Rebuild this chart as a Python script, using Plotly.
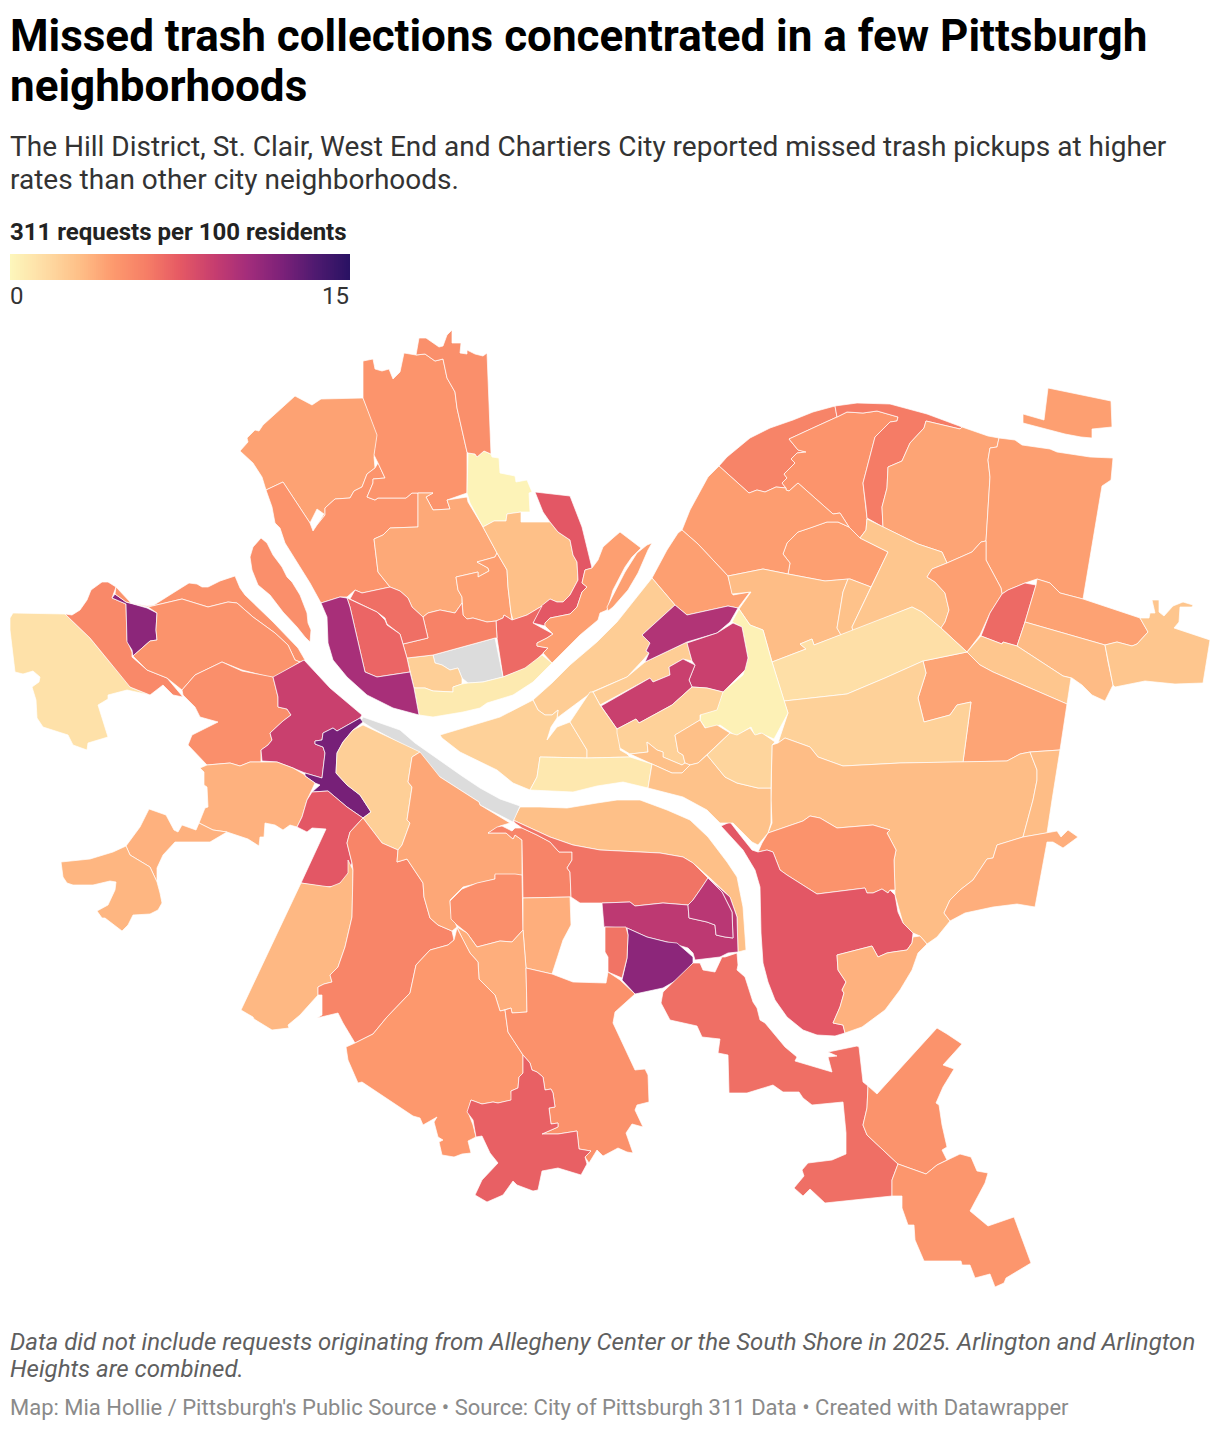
import numpy as np
import plotly.graph_objects as go
from plotly.colors import sample_colorscale

TITLE_LINES = ["Missed trash collections concentrated in a few Pittsburgh", "neighborhoods"]
SUBTITLE_LINES = ["The Hill District, St. Clair, West End and Chartiers City reported missed trash pickups at higher",
                  "rates than other city neighborhoods."]
LEGEND_TITLE = "311 requests per 100 residents"
NOTE_LINES = ["Data did not include requests originating from Allegheny Center or the South Shore in 2025. Arlington and Arlington",
              "Heights are combined."]
SOURCE_LINE = "Map: Mia Hollie / Pittsburgh's Public Source • Source: City of Pittsburgh 311 Data • Created with Datawrapper"
SCALE_MIN, SCALE_MAX = 0, 15
NO_DATA = "#dcdcdc"
SCALE = [[0.0,"#fdf6bb"],[0.1,"#fedca4"],[0.2,"#fec088"],[0.3,"#fd9a6e"],[0.4,"#f67e66"],[0.5,"#e55964"],
         [0.6,"#c73e6f"],[0.7,"#a32d7b"],[0.8,"#7d2179"],[0.9,"#4f1a70"],[1.0,"#2a1263"]]

A=[(240,451),(248,442),(247,438),(255,430),(259,431),(263,425),(295,396),(312,405),(321,399),(363,398),(368,410),(378,435),(374,457),(375,468),(367,474),(362,487),(354,491),(350,498),(335,499),(325,508),(325,515),(317,525),(324,514),(317,509),(310,523),(283,482),(266,490),(262,477),(253,463)]
B=[(266,490),(283,482),(310,523),(313,531),(317,525),(325,515),(325,508),(335,499),(350,498),(354,491),(362,487),(367,474),(375,468),(378,463),(385,478),(373,479),(373,483),(367,497),(375,500),(378,498),(406,498),(412,493),(418,493),(418,527),(390,528),(383,535),(374,539),(378,572),(390,587),(362,593),(355,590),(347,597),(340,597),(321,603),(310,583),(285,543),(280,528),(275,523),(272,507),(268,497)]
C=[(363,361),(373,359),(375,369),(382,371),(389,369),(393,379),(400,372),(404,353),(416,355),(425,354),(435,361),(443,359),(447,378),(455,392),(457,408),(467,452),(467,493),(447,500),(450,509),(433,510),(426,497),(433,493),(412,493),(406,498),(378,498),(375,500),(367,497),(373,483),(373,479),(385,478),(378,463),(374,455),(377,435),(363,398)]
E=[(374,539),(383,535),(390,528),(418,527),(418,493),(433,493),(426,497),(433,510),(450,509),(447,500),(467,497),(468,502),(483,527),(497,553),(495,557),(477,562),(488,568),(489,571),(478,577),(478,572),(456,577),(458,590),(462,597),(462,603),(455,613),(440,610),(428,613),(423,617),(412,607),(408,598),(400,591),(390,587),(378,572)]
F=[(456,577),(478,572),(478,577),(489,571),(488,568),(477,562),(495,557),(497,553),(507,570),(508,587),(511,613),(512,620),(504,615),(503,618),(496,621),(487,622),(473,618),(467,619),(463,615),(462,597),(458,590)]
G=[(468,453),(475,454),(477,457),(484,451),(491,454),(492,457),(499,458),(500,473),(515,476),(516,482),(527,480),(532,492),(529,493),(530,512),(521,512),(507,514),(506,521),(494,521),(483,527),(470,503),(467,493)]
H=[(416,355),(419,338),(426,338),(439,347),(443,346),(447,335),(452,330),(452,343),(461,343),(460,353),(467,354),(467,350),(475,354),(483,356),(487,353),(491,454),(484,451),(477,457),(475,454),(468,453),(467,452),(457,408),(455,392),(447,378),(443,359),(435,361),(425,354)]
I=[(483,527),(494,521),(506,521),(507,514),(521,512),(521,522),(550,522),(558,532),(570,540),(573,555),(577,562),(578,580),(570,595),(563,602),(557,602),(550,599),(542,606),(527,615),(513,620),(511,613),(508,587),(507,570),(497,553)]
J=[(535,492),(570,496),(582,527),(592,568),(585,570),(582,583),(587,587),(582,592),(577,607),(570,614),(550,618),(545,623),(545,626),(533,623),(540,607),(550,599),(557,602),(563,602),(570,595),(578,580),(577,562),(573,555),(570,540),(558,532),(550,522),(543,512)]
K=[(496,621),(503,618),(504,615),(512,620),(527,615),(542,606),(533,623),(553,634),(547,638),(537,643),(537,646),(548,648),(530,667),(503,677),(497,638)]
L=[(620,532),(641,548),(632,557),(625,567),(613,590),(607,610),(600,613),(598,620),(580,635),(552,663),(543,653),(548,648),(537,646),(537,643),(547,638),(553,634),(545,626),(545,623),(550,618),(570,614),(577,607),(582,592),(587,587),(582,583),(585,570),(592,568),(598,560),(603,547),(613,538)]
M=[(652,543),(648,550),(638,573),(628,590),(613,607),(608,611),(607,607),(617,588),(625,572),(637,553),(647,545)]
N1=[(719,466),(727,457),(750,438),(770,428),(793,420),(813,412),(835,406),(837,417),(815,427),(789,439),(798,450),(806,452),(797,453),(791,459),(795,463),(784,474),(787,478),(782,483),(786,488),(776,487),(765,492),(757,490),(749,493)]
N2=[(837,417),(847,412),(863,413),(877,411),(898,417),(897,421),(890,422),(875,437),(863,483),(866,507),(867,518),(866,530),(860,538),(849,527),(840,513),(833,514),(798,483),(789,491),(786,490),(786,488),(782,483),(787,478),(784,474),(795,463),(791,459),(797,453),(806,452),(798,450),(789,439),(815,427)]
N3=[(835,406),(857,403),(890,404),(927,414),(962,427),(960,429),(926,421),(924,428),(910,443),(902,461),(888,467),(887,488),(882,507),(883,527),(867,518),(866,507),(863,483),(875,437),(890,422),(897,421),(898,417),(877,411),(863,413),(847,412),(837,417)]
N4=[(926,421),(960,429),(962,427),(988,436),(999,438),(997,447),(990,448),(988,460),(990,477),(986,541),(981,542),(972,552),(947,563),(942,552),(918,544),(883,527),(882,507),(887,488),(888,467),(902,461),(910,443),(924,428)]
N5=[(999,438),(1015,440),(1022,445),(1050,449),(1057,452),(1090,457),(1113,458),(1111,480),(1102,486),(1083,599),(1060,593),(1050,583),(1037,579),(1025,583),(1008,590),(1002,594),(1001,588),(986,560),(986,541),(990,477),(988,460),(990,448),(997,447)]
N6=[(1048,388),(1111,401),(1112,427),(1092,429),(1092,438),(1081,437),(1065,434),(1023,423),(1023,414),(1044,420)]
N7=[(788,574),(790,563),(783,554),(787,543),(798,532),(810,528),(827,522),(838,522),(849,527),(860,538),(888,552),(871,587),(850,579),(825,581)]
O=[(719,466),(749,493),(757,490),(765,492),(776,487),(786,488),(786,490),(789,491),(798,483),(833,514),(840,513),(849,527),(838,522),(827,522),(810,528),(798,532),(787,543),(783,554),(790,563),(788,574),(763,569),(728,576),(698,544),(682,530),(690,510),(703,487),(708,477)]
P=[(682,530),(698,544),(728,576),(733,595),(750,592),(738,608),(728,606),(687,615),(675,605),(652,578),(667,550),(678,533)]
Q=[(728,576),(763,569),(788,574),(825,581),(848,579),(843,592),(837,628),(841,635),(814,645),(812,639),(800,644),(806,649),(772,662),(763,630),(750,625),(739,609),(751,592),(732,594)]
R=[(848,579),(850,579),(871,587),(852,627),(853,631),(841,635),(837,628),(843,592)]
S=[(867,519),(883,527),(918,544),(942,552),(947,563),(932,569),(927,577),(935,582),(945,593),(949,610),(945,622),(941,628),(922,612),(912,607),(895,614),(853,631),(852,627),(871,587),(888,552),(860,538),(866,530)]
T=[(947,563),(972,552),(981,542),(986,541),(986,560),(1001,588),(1002,594),(990,613),(980,635),(967,652),(941,628),(945,622),(949,610),(945,593),(935,582),(927,577),(932,569)]
U=[(1008,590),(1025,583),(1036,585),(1025,622),(1017,646),(1003,642),(1002,644),(981,636),(990,613),(1002,594)]
V=[(1037,579),(1050,583),(1060,593),(1083,599),(1140,618),(1148,632),(1137,644),(1132,646),(1117,642),(1105,645),(1025,622),(1036,585)]
W=[(1025,622),(1105,645),(1108,662),(1113,685),(1105,701),(1092,695),(1082,685),(1072,678),(1063,676),(1017,646)]
X=[(1140,618),(1149,618),(1150,613),(1155,613),(1152,600),(1159,600),(1159,612),(1164,616),(1173,606),(1183,602),(1193,605),(1192,607),(1180,607),(1179,622),(1174,628),(1210,640),(1203,683),(1175,684),(1145,681),(1115,687),(1113,685),(1108,662),(1105,645),(1117,642),(1132,646),(1137,644),(1148,632)]
Y=[(981,636),(1002,644),(1003,642),(1017,646),(1063,676),(1071,678),(1067,704),(993,672),(980,665),(967,652)]
Z=[(967,652),(980,665),(993,672),(1067,704),(1060,750),(1030,752),(1020,754),(1007,761),(963,762),(971,702),(957,705),(950,715),(924,722),(918,698),(926,673),(923,661)]
AA=[(772,662),(806,649),(800,644),(812,639),(814,645),(895,614),(912,607),(922,612),(941,628),(967,652),(923,661),(903,670),(885,678),(847,694),(784,701)]
AB=[(784,701),(847,694),(885,678),(903,670),(923,661),(926,673),(918,698),(924,722),(950,715),(957,705),(971,702),(963,762),(900,763),(843,766),(818,757),(810,747),(785,738),(778,743),(788,713)]
AC=[(739,609),(750,625),(763,630),(772,662),(788,713),(774,739),(760,733),(755,736),(751,727),(736,736),(720,725),(707,730),(700,720),(701,713),(715,710),(718,698),(725,690),(743,675),(748,658),(742,627),(732,622)]
AD=[(772,745),(778,743),(785,738),(810,747),(818,757),(843,766),(900,763),(963,762),(1007,761),(1020,754),(1030,752),(1037,770),(1037,780),(1033,800),(1023,837),(997,845),(993,858),(987,859),(973,880),(960,890),(950,900),(944,913),(950,921),(937,937),(927,944),(920,936),(913,933),(903,923),(895,895),(894,860),(896,850),(887,833),(890,830),(873,825),(837,828),(820,818),(810,816),(803,821),(768,833),(772,823),(771,800)]
AE=[(1030,752),(1060,750),(1052,800),(1047,833),(1023,837),(1033,800),(1037,780),(1037,770)]
AG=[(950,921),(944,913),(950,900),(960,890),(973,880),(987,859),(993,858),(997,845),(1023,837),(1047,833),(1057,831),(1061,837),(1068,830),(1078,837),(1063,848),(1053,842),(1047,842),(1035,907),(1017,904),(993,907),(965,913)]
AH=[(758,852),(762,843),(768,833),(803,821),(810,816),(820,818),(837,828),(873,825),(890,830),(887,833),(896,850),(894,860),(895,890),(890,890),(888,893),(882,889),(873,893),(867,893),(865,888),(817,894),(787,875),(780,870),(773,852),(767,850)]
AI=[(721,826),(730,822),(740,835),(752,850),(758,852),(767,850),(773,852),(780,870),(787,875),(817,894),(865,888),(867,893),(873,893),(882,889),(888,893),(890,890),(895,895),(898,912),(903,923),(913,933),(912,943),(907,950),(893,952),(887,953),(878,957),(872,946),(837,955),(838,970),(846,982),(842,990),(844,993),(840,1007),(833,1023),(843,1025),(845,1033),(835,1036),(817,1035),(803,1030),(787,1017),(775,1000),(768,982),(763,963),(761,933),(760,887),(755,870),(743,850)]
AJ=[(837,955),(872,946),(878,957),(887,953),(893,952),(907,950),(912,943),(913,937),(920,936),(927,944),(918,953),(912,970),(900,990),(885,1010),(862,1027),(845,1033),(843,1025),(833,1023),(840,1007),(844,993),(842,990),(846,982),(838,970)]
AK=[(513,820),(520,807),(540,807),(567,808),(597,803),(617,800),(640,800),(667,810),(690,820),(708,837),(727,862),(737,877),(743,907),(746,950),(738,952),(737,917),(730,897),(710,878),(693,863),(683,857),(660,853),(600,850),(573,845),(550,837)]
AL=[(363,717),(400,730),(415,743),(440,761),(462,776),(480,788),(500,799),(520,806),(513,822),(480,805),(479,802),(440,777),(415,753),(400,743),(372,728),(361,721)]
AM=[(433,655),(495,638),(503,677),(483,682),(468,683),(462,678),(458,668),(450,670),(442,665),(435,663)]
AN=[(407,658),(433,655),(435,663),(442,665),(450,670),(458,668),(462,678),(462,684),(453,687),(453,692),(433,691),(425,688),(414,688)]
AO=[(414,688),(425,688),(433,691),(453,692),(453,687),(462,684),(468,683),(483,682),(503,677),(525,668),(542,655),(552,663),(533,682),(513,695),(487,703),(480,708),(463,712),(433,717),(419,715)]
AP=[(403,644),(428,638),(423,617),(428,613),(440,610),(455,613),(462,603),(463,615),(467,619),(473,618),(487,622),(496,621),(497,638),(495,638),(433,655),(407,658)]
AQ=[(362,593),(390,587),(400,591),(408,598),(412,607),(423,617),(428,638),(403,644),(400,634),(387,624),(385,618),(377,612),(350,599),(355,590)]
AR=[(347,598),(377,612),(385,620),(387,625),(400,634),(403,644),(407,658),(410,672),(377,677),(365,672),(350,607)]
AS=[(321,603),(340,597),(347,598),(350,607),(365,672),(377,677),(410,672),(414,688),(419,715),(393,708),(367,695),(347,677),(333,660),(328,643),(327,617)]
AT=[(261,538),(267,543),(273,555),(282,567),(287,577),(292,582),(300,595),(307,613),(308,623),(311,630),(310,642),(305,637),(297,627),(283,612),(270,595),(258,585),(252,570),(250,557),(253,547)]
AU=[(13,613),(65,614),(90,638),(108,660),(127,682),(130,687),(150,695),(127,690),(108,695),(108,699),(98,705),(108,737),(88,743),(87,750),(73,745),(68,735),(43,727),(37,718),(36,700),(32,687),(39,682),(40,677),(33,671),(23,674),(15,672),(10,630),(10,618)]
AV=[(65,614),(72,615),(80,610),(87,600),(91,590),(102,582),(108,582),(116,587),(112,598),(126,604),(127,640),(132,652),(132,657),(147,670),(167,678),(183,697),(173,695),(163,685),(150,695),(130,687),(108,660),(90,638)]
AW=[(115,594),(126,602),(147,608),(157,613),(156,630),(157,640),(150,641),(133,656),(132,650),(127,642),(126,604),(112,598)]
AX=[(116,587),(131,603),(147,606),(154,605),(173,593),(189,583),(197,584),(202,587),(208,587),(220,581),(235,576),(240,588),(245,595),(273,622),(298,648),(305,660),(300,662),(295,660),(288,645),(275,633),(253,617),(237,603),(228,602),(208,607),(182,599),(148,607),(126,602),(115,594)]
AY=[(157,613),(148,607),(182,599),(208,607),(228,602),(237,603),(253,617),(275,633),(288,645),(295,660),(300,662),(273,678),(242,670),(222,662),(195,675),(182,690),(167,678),(147,670),(133,656),(150,641),(157,640),(156,630)]
AZ=[(182,690),(195,675),(222,662),(242,671),(273,677),(278,697),(278,707),(287,709),(291,715),(283,721),(270,733),(272,740),(268,745),(261,750),(261,762),(250,762),(240,766),(230,763),(207,765),(188,745),(192,735),(218,722),(200,717),(195,707),(183,695)]
BA=[(304,660),(330,688),(362,715),(360,718),(337,731),(333,728),(323,733),(322,740),(315,741),(315,744),(323,747),(325,753),(322,778),(305,773),(293,768),(277,762),(262,761),(261,750),(268,745),(272,740),(270,733),(283,721),(291,715),(287,709),(278,707),(278,697),(273,677)]
BB=[(360,718),(363,722),(353,730),(343,742),(337,753),(336,773),(347,785),(360,795),(371,812),(363,818),(347,807),(328,791),(312,792),(320,785),(315,783),(305,776),(305,773),(322,778),(325,753),(323,747),(315,744),(315,741),(322,740),(323,733),(333,728),(337,731)]
BC=[(363,725),(420,752),(412,757),(408,782),(412,787),(407,820),(410,823),(402,845),(398,850),(382,843),(363,818),(371,812),(360,795),(347,785),(336,773),(337,753),(343,742),(353,730)]
BD=[(200,768),(207,765),(230,763),(240,766),(250,762),(277,762),(293,768),(305,775),(305,776),(315,783),(307,800),(302,817),(297,827),(290,825),(283,830),(275,825),(265,823),(264,837),(260,837),(259,846),(248,839),(227,832),(213,830),(199,823),(205,808),(208,807),(207,787),(204,785),(204,772)]
BE=[(149,809),(166,815),(174,830),(178,832),(182,825),(196,830),(199,823),(213,830),(227,832),(210,842),(175,842),(163,855),(157,868),(157,882),(150,867),(130,855),(126,846),(140,827)]
BF=[(126,846),(130,855),(150,867),(157,882),(160,893),(162,903),(158,910),(150,914),(133,915),(128,925),(122,931),(105,918),(102,918),(97,911),(108,905),(115,890),(116,882),(110,881),(93,885),(73,885),(67,883),(63,877),(61,862),(90,859),(113,852)]
BG=[(312,792),(328,791),(347,807),(363,818),(350,832),(347,843),(352,863),(347,877),(337,886),(325,887),(301,883),(326,829),(312,828),(307,832),(297,827),(302,817),(307,800)]
BH=[(301,883),(330,887),(340,883),(348,873),(348,860),(353,870),(352,917),(345,947),(338,967),(330,975),(332,982),(324,984),(318,987),(318,995),(300,1015),(288,1025),(289,1028),(272,1030),(254,1019),(253,1017),(241,1010)]
BI=[(352,863),(347,843),(350,832),(363,818),(382,843),(398,850),(397,862),(407,859),(423,883),(424,897),(430,918),(438,925),(452,931),(454,940),(448,945),(430,950),(416,965),(410,993),(387,1017),(373,1034),(355,1043),(343,1023),(338,1013),(317,1018),(322,1015),(322,995),(318,995),(318,987),(324,984),(332,982),(330,975),(338,967),(345,947),(352,917),(353,870)]
BJ=[(420,752),(440,777),(479,802),(480,805),(510,823),(500,826),(488,833),(506,833),(513,839),(515,835),(522,840),(522,876),(495,875),(495,879),(463,887),(450,900),(451,913),(457,927),(452,931),(438,925),(430,918),(424,897),(423,883),(407,859),(397,862),(398,850),(402,845),(410,823),(407,820),(412,787),(408,782),(412,757)]
BK=[(522,840),(515,835),(513,839),(506,833),(488,833),(497,827),(502,826),(512,831),(515,828),(522,828),(537,835),(550,842),(559,852),(572,852),(572,860),(567,868),(570,872),(571,897),(523,898)]
BL=[(513,820),(550,837),(573,845),(600,850),(660,853),(683,857),(693,863),(708,878),(702,887),(693,900),(688,905),(663,903),(635,906),(630,902),(602,903),(580,903),(571,897),(570,872),(567,868),(572,860),(572,852),(559,852),(550,842),(537,835),(522,828),(515,823)]
BM=[(602,903),(630,902),(635,906),(663,903),(688,905),(689,918),(707,922),(715,925),(716,935),(725,937),(733,938),(732,912),(722,892),(708,878),(730,897),(737,917),(738,952),(728,953),(720,957),(695,960),(693,953),(688,948),(667,942),(647,937),(627,928),(604,927)]
BN=[(688,905),(693,900),(702,887),(708,878),(722,892),(732,912),(733,938),(725,937),(716,935),(715,925),(707,922),(689,918)]
BO=[(627,928),(647,937),(667,942),(677,943),(693,957),(693,963),(682,977),(663,988),(635,994),(622,980),(627,958),(628,935)]
BP=[(605,927),(626,927),(628,935),(627,958),(622,978),(608,972),(608,957),(605,952)]
BQ=[(450,901),(462,889),(477,883),(495,879),(495,874),(515,874),(522,875),(523,930),(512,942),(500,941),(477,947),(467,933),(457,925),(451,919)]
BR=[(523,898),(570,897),(571,925),(563,940),(552,974),(526,968),(523,930)]
BS=[(457,927),(467,933),(477,947),(500,941),(512,942),(523,930),(526,968),(527,1012),(512,1013),(511,1008),(500,1011),(495,995),(479,979),(478,962),(470,953),(463,940)]
BT=[(355,1043),(373,1034),(387,1017),(410,993),(416,965),(430,950),(448,945),(454,940),(457,928),(463,940),(470,953),(478,962),(479,979),(495,995),(500,1011),(505,1010),(508,1032),(523,1055),(523,1073),(519,1077),(518,1088),(511,1091),(512,1100),(498,1103),(493,1102),(482,1104),(471,1100),(468,1112),(473,1125),(476,1137),(468,1141),(471,1153),(462,1154),(454,1157),(442,1155),(439,1142),(443,1140),(438,1137),(434,1122),(437,1117),(423,1125),(420,1118),(413,1116),(362,1082),(358,1083),(348,1060),(346,1047)]
BU=[(505,1010),(511,1008),(512,1013),(527,1012),(526,968),(552,974),(573,982),(606,983),(608,972),(620,980),(635,994),(615,1012),(613,1023),(635,1070),(645,1069),(648,1075),(649,1102),(637,1105),(635,1110),(643,1127),(632,1124),(626,1133),(633,1153),(627,1152),(618,1148),(603,1156),(597,1150),(593,1157),(589,1163),(585,1157),(591,1151),(579,1149),(577,1131),(558,1134),(542,1134),(558,1127),(558,1123),(551,1124),(549,1108),(555,1107),(553,1093),(551,1089),(545,1090),(543,1077),(537,1072),(532,1070),(530,1063),(523,1055),(508,1032)]
BV=[(523,1055),(530,1063),(532,1070),(537,1072),(543,1077),(545,1090),(551,1089),(553,1093),(555,1107),(549,1108),(551,1124),(558,1123),(558,1127),(542,1134),(558,1134),(577,1131),(579,1149),(591,1151),(585,1157),(587,1164),(581,1175),(558,1168),(542,1171),(538,1190),(533,1191),(517,1185),(513,1181),(503,1195),(487,1202),(475,1195),(482,1180),(498,1163),(490,1153),(482,1136),(476,1137),(473,1120),(467,1112),(471,1100),(482,1104),(493,1102),(498,1103),(511,1100),(511,1091),(518,1088),(519,1077),(523,1073)]
BW=[(737,953),(738,965),(737,970),(745,977),(753,1002),(757,1008),(760,1020),(765,1023),(785,1047),(797,1057),(795,1061),(832,1072),(828,1057),(837,1056),(828,1052),(857,1046),(859,1047),(863,1082),(868,1086),(867,1108),(863,1125),(867,1135),(898,1164),(892,1180),(892,1196),(825,1203),(810,1189),(803,1196),(794,1188),(804,1176),(802,1170),(808,1163),(832,1160),(846,1154),(846,1133),(843,1102),(812,1105),(803,1098),(799,1092),(783,1092),(773,1085),(747,1093),(729,1093),(728,1055),(718,1053),(720,1039),(702,1037),(697,1026),(670,1020),(661,1003),(663,992),(693,963),(700,963),(703,970),(715,972),(722,957),(725,957)]
BX=[(937,1028),(947,1034),(962,1044),(943,1065),(954,1069),(943,1087),(936,1103),(939,1105),(942,1125),(947,1147),(942,1150),(947,1160),(937,1165),(926,1174),(898,1164),(867,1135),(863,1125),(867,1108),(868,1086),(877,1094)]
BY=[(898,1164),(926,1174),(937,1165),(960,1154),(971,1157),(977,1171),(988,1173),(985,1183),(970,1211),(988,1226),(1014,1217),(1031,1263),(1006,1278),(1004,1283),(995,1287),(990,1274),(975,1278),(970,1265),(962,1265),(961,1261),(924,1261),(915,1240),(914,1225),(908,1225),(902,1208),(902,1196),(892,1196),(892,1180)]
BZ=[(652,578),(675,605),(642,635),(650,643),(646,651),(649,653),(643,660),(627,677),(592,692),(557,718),(558,710),(552,715),(545,715),(538,710),(533,700),(552,683),(570,665),(597,642),(617,622)]
CA=[(440,735),(500,717),(533,700),(538,710),(545,715),(552,715),(558,710),(557,718),(551,727),(547,740),(557,727),(570,722),(587,750),(587,758),(540,757),(537,777),(530,790),(513,783),(497,770),(460,752),(442,738)]
CB=[(645,662),(687,642),(692,661),(683,659),(669,667),(670,675),(653,682),(650,678),(600,705),(593,692),(627,677)]
CC=[(642,635),(675,605),(687,615),(728,606),(738,608),(730,622),(717,633),(687,642),(645,662),(649,653),(646,651),(650,643)]
CD=[(687,643),(717,633),(733,623),(742,627),(748,658),(745,670),(723,692),(707,688),(692,687),(689,680),(695,665),(692,661)]
CE=[(601,706),(650,678),(653,682),(670,675),(669,667),(683,659),(695,665),(689,680),(692,687),(672,705),(639,723),(636,719),(617,729)]
CF=[(570,722),(590,692),(593,692),(600,705),(617,729),(620,735),(620,750),(627,754),(630,757),(587,758),(587,750)]
CG=[(617,729),(636,719),(639,723),(672,705),(692,687),(707,688),(723,692),(717,710),(700,715),(700,720),(687,728),(675,735),(678,752),(683,755),(685,763),(682,765),(663,757),(663,752),(657,750),(647,742),(648,752),(630,754),(620,748),(617,733)]
CH=[(675,735),(687,728),(700,720),(705,728),(717,725),(730,733),(707,755),(698,763),(690,765),(685,763),(683,755),(678,752)]
CI=[(630,754),(648,752),(647,742),(657,750),(663,752),(663,757),(682,765),(685,763),(690,765),(682,773),(672,773),(652,764)]
CJ=[(540,757),(587,758),(630,757),(652,764),(648,788),(623,782),(597,786),(573,792),(530,790),(537,777)]
CK=[(652,764),(672,773),(682,773),(690,765),(698,763),(707,755),(725,777),(737,783),(758,788),(771,788),(771,823),(768,833),(758,845),(752,842),(733,823),(720,823),(707,810),(683,797),(648,788)]
CL=[(707,755),(730,733),(737,735),(750,728),(755,735),(762,733),(775,742),(772,745),(771,788),(758,788),(737,783),(725,777)]

AREA_OUTLINES=[A,B,C,E,F,G,H,I,J,K,L,M,N1,N2,N3,N4,N5,N6,N7,O,P,Q,R,S,T,U,V,W,X,Y,Z,AA,AB,AC,AD,AE,AG,AH,AI,AJ,AK,AL,AM,AN,AO,AP,AQ,AR,AS,AT,AU,AV,AW,AX,AY,AZ,BA,BB,BC,BD,BE,BF,BG,BH,BI,BJ,BK,BL,BM,BN,BO,BP,BQ,BR,BS,BT,BU,BV,BW,BX,BY,BZ,CA,CB,CC,CD,CE,CF,CG,CH,CI,CJ,CK,CL]
AREA_VALUES=[4.2,4.8,4.8,3.9,4.3,0.2,5.1,3.0,7.6,6.8,4.3,4.3,5.7,4.8,6.1,4.1,4.3,4.3,4.3,4.4,4.3,3.1,2.9,2.7,4.3,6.8,4.2,3.2,2.7,2.7,4.1,1.3,2.1,0.3,3.1,3.1,3.7,4.9,7.6,3.6,3.0,None,None,2.2,0.7,5.8,6.6,7.0,10.3,5.1,1.2,5.4,11.4,4.9,4.9,5.1,8.9,12.2,2.2,3.6,3.6,3.4,7.6,3.3,5.6,4.0,5.7,6.4,9.4,9.6,11.4,6.4,5.1,3.7,3.7,4.6,5.0,7.2,6.6,4.9,4.7,2.3,2.1,2.3,9.9,8.9,8.9,2.1,2.1,3.0,3.0,0.8,2.9,1.9]

fig = go.Figure()
for outline, value in zip(AREA_OUTLINES, AREA_VALUES):
    colour = NO_DATA if value is None else sample_colorscale(SCALE, (value - SCALE_MIN) / (SCALE_MAX - SCALE_MIN))[0]
    xs, ys = zip(*outline)
    fig.add_trace(go.Scatter(x=list(xs) + [xs[0]], y=list(ys) + [ys[0]], mode="lines", fill="toself", fillcolor=colour,
                             line=dict(color="white", width=0.7), hoverinfo="skip", showlegend=False))

# legend ramp, drawn by the library from the scale
legend_values = np.linspace(SCALE_MIN, SCALE_MAX, 170)
fig.add_trace(go.Heatmap(z=[legend_values], x0=11, dx=2, y0=267, dy=26, colorscale=SCALE, zmin=SCALE_MIN, zmax=SCALE_MAX,
                         showscale=False, hoverinfo="skip"))

F_ = "Roboto, sans-serif"
def label(text, x, y, size, color, anchor="left", weight=400, style="normal"):
    fig.add_annotation(x=x, y=y, xref="x", yref="y", text=text, showarrow=False, xanchor=anchor, yanchor="middle",
                       align=anchor, font=dict(family=F_, size=size, color=color, weight=weight, style=style))

label(TITLE_LINES[0], 8, 36, 44, "#000000", weight=700)
label(TITLE_LINES[1], 8, 86, 44, "#000000", weight=700)
label(SUBTITLE_LINES[0], 8, 146, 28, "#333333")
label(SUBTITLE_LINES[1], 8, 179, 28, "#333333")
label(LEGEND_TITLE, 8, 232, 24, "#222222", weight=700)
label(str(SCALE_MIN), 8, 296, 24, "#333333")
label(str(SCALE_MAX), 351, 296, 24, "#333333", anchor="right")
label(NOTE_LINES[0], 8, 1342, 24, "#5f5f5f", style="italic")
label(NOTE_LINES[1], 8, 1369, 24, "#5f5f5f", style="italic")
label(SOURCE_LINE, 8, 1407, 22, "#8a8a8a")

fig.update_layout(width=1220, height=1430, margin=dict(l=0, r=0, t=0, b=0), paper_bgcolor="white", plot_bgcolor="white",
                  xaxis=dict(range=[0, 1220], visible=False, fixedrange=True),
                  yaxis=dict(range=[1430, 0], visible=False, fixedrange=True))
fig.write_html("out.html", post_script="document.body.style.margin='0';", config={"displayModeBar": False})
